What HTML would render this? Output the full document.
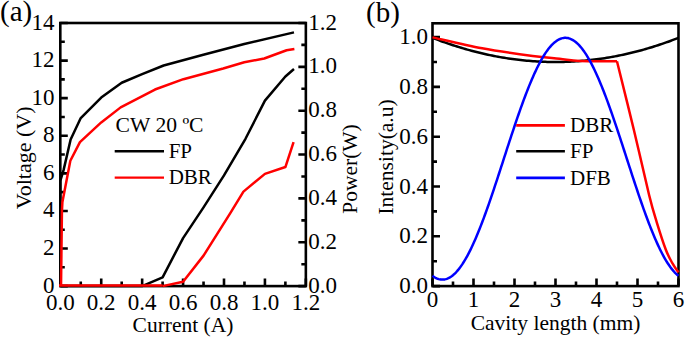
<!DOCTYPE html>
<html><head><meta charset="utf-8"><style>
html,body{margin:0;padding:0;background:#fff;}
svg{display:block;}
text{font-family:"Liberation Serif",serif;fill:#000;}
.s{font-family:"Liberation Sans",sans-serif;}
</style></head><body>
<svg width="685" height="338" viewBox="0 0 685 338">
<rect x="0" y="0" width="685" height="338" fill="#fff"/>

<path fill="none" stroke="#000" stroke-width="2.6" d="M60.30,286.10 h7.5 M60.30,267.31 h4.5 M60.30,248.51 h7.5 M60.30,229.72 h4.5 M60.30,210.93 h7.5 M60.30,192.14 h4.5 M60.30,173.34 h7.5 M60.30,154.55 h4.5 M60.30,135.76 h7.5 M60.30,116.96 h4.5 M60.30,98.17 h7.5 M60.30,79.38 h4.5 M60.30,60.59 h7.5 M60.30,41.79 h4.5 M60.30,23.00 h7.5 M305.85,286.10 h-7.5 M305.85,264.18 h-4.5 M305.85,242.25 h-7.5 M305.85,220.33 h-4.5 M305.85,198.40 h-7.5 M305.85,176.48 h-4.5 M305.85,154.55 h-7.5 M305.85,132.62 h-4.5 M305.85,110.70 h-7.5 M305.85,88.78 h-4.5 M305.85,66.85 h-7.5 M305.85,44.92 h-4.5 M305.85,23.00 h-7.5 M60.30,286.10 v-7.5 M80.76,286.10 v-4.5 M101.22,286.10 v-7.5 M121.69,286.10 v-4.5 M142.15,286.10 v-7.5 M162.61,286.10 v-4.5 M183.08,286.10 v-7.5 M203.54,286.10 v-4.5 M224.00,286.10 v-7.5 M244.46,286.10 v-4.5 M264.93,286.10 v-7.5 M285.39,286.10 v-4.5 M305.85,286.10 v-7.5"/>
<rect x="60.30" y="23.00" width="245.55" height="263.10" fill="none" stroke="#000" stroke-width="2.6"/>
<g fill="none" stroke-linejoin="round" stroke-linecap="butt" stroke-width="2.50">
<path stroke="#000" d="M60.30,286.10 L60.30,180.86 L63.57,170.15 L70.63,139.52 L80.76,118.09 L101.22,97.61 L121.69,82.76 L142.15,74.12 L163.64,65.47 L203.33,54.76 L244.26,44.05 L293.98,32.40"/>
<path stroke="#000" d="M60.30,286.10 L142.15,286.10 L162.61,277.33 L183.08,238.08 L203.54,207.39 L224.00,175.38 L245.49,138.76 L264.93,100.61 L285.39,76.50 L293.98,69.04"/>
<path stroke="#f00" d="M61.02,286.10 L61.94,210.93 L62.41,201.98 L70.33,160.75 L79.94,142.15 L101.22,122.41 L120.66,107.38 L154.96,89.53 L183.40,79.19 L223.18,68.48 L244.26,62.28 L264.23,58.52 L286.62,50.25 L294.39,48.93"/>
<path stroke="#f00" d="M162.61,286.10 L183.08,281.72 L203.54,255.62 L230.14,213.31 L243.44,191.60 L264.93,173.84 L285.39,167.05 L293.57,142.05"/>
</g>
<path fill="none" stroke="#f00" stroke-width="2.3" d="M59.00,285.50 H162.61"/>
<text x="54.5" y="292.60" font-size="23" text-anchor="end">0</text>
<text x="54.5" y="255.01" font-size="23" text-anchor="end">2</text>
<text x="54.5" y="217.43" font-size="23" text-anchor="end">4</text>
<text x="54.5" y="179.84" font-size="23" text-anchor="end">6</text>
<text x="54.5" y="142.26" font-size="23" text-anchor="end">8</text>
<text x="54.5" y="104.67" font-size="23" text-anchor="end">10</text>
<text x="54.5" y="67.09" font-size="23" text-anchor="end">12</text>
<text x="54.5" y="29.50" font-size="23" text-anchor="end">14</text>
<text x="60.30" y="310" font-size="23" text-anchor="middle">0.0</text>
<text x="101.22" y="310" font-size="23" text-anchor="middle">0.2</text>
<text x="142.15" y="310" font-size="23" text-anchor="middle">0.4</text>
<text x="183.08" y="310" font-size="23" text-anchor="middle">0.6</text>
<text x="224.00" y="310" font-size="23" text-anchor="middle">0.8</text>
<text x="264.93" y="310" font-size="23" text-anchor="middle">1.0</text>
<text x="305.85" y="310" font-size="23" text-anchor="middle">1.2</text>
<text x="308.2" y="292.60" font-size="23">0.0</text>
<text x="308.2" y="248.75" font-size="23">0.2</text>
<text x="308.2" y="204.90" font-size="23">0.4</text>
<text x="308.2" y="161.05" font-size="23">0.6</text>
<text x="308.2" y="117.20" font-size="23">0.8</text>
<text x="308.2" y="73.35" font-size="23">1.0</text>
<text x="308.2" y="29.50" font-size="23">1.2</text>
<text x="183" y="332" font-size="21.5" text-anchor="middle">Current (A)</text>
<text transform="translate(30.6,157.9) rotate(-90)" font-size="22" text-anchor="middle">Voltage (V)</text>
<text transform="translate(357.3,169) rotate(-90)" font-size="21.5" text-anchor="middle">Power(W)</text>
<text x="0" y="21.4" font-size="29">(a)</text>
<text x="115.6" y="132.2" font-size="21.6">CW 20 ºC</text>
<path stroke="#000" stroke-width="2.6" d="M114.7,151.2 H164"/>
<text x="168.7" y="158" font-size="21">FP</text>
<path stroke="#f00" stroke-width="2.4" d="M114.7,177.6 H164"/>
<text x="168.7" y="184" font-size="21">DBR</text>
<path fill="none" stroke="#000" stroke-width="2.6" d="M432.50,286.10 h7.5 M432.50,261.20 h4.5 M432.50,236.30 h7.5 M432.50,211.40 h4.5 M432.50,186.50 h7.5 M432.50,161.60 h4.5 M432.50,136.70 h7.5 M432.50,111.80 h4.5 M432.50,86.90 h7.5 M432.50,62.00 h4.5 M432.50,37.10 h7.5 M432.50,286.10 v-7.5 M453.00,286.10 v-4.5 M473.50,286.10 v-7.5 M494.00,286.10 v-4.5 M514.50,286.10 v-7.5 M535.00,286.10 v-4.5 M555.50,286.10 v-7.5 M576.00,286.10 v-4.5 M596.50,286.10 v-7.5 M617.00,286.10 v-4.5 M637.50,286.10 v-7.5 M658.00,286.10 v-4.5 M678.50,286.10 v-7.5"/>
<rect x="432.50" y="23.30" width="246.00" height="262.80" fill="none" stroke="#000" stroke-width="2.6"/>
<g fill="none" stroke-linejoin="round" stroke-width="2.50">
<path stroke="#000" d="M432.50,37.85 L434.55,38.65 L436.60,39.43 L438.65,40.20 L440.70,40.96 L442.75,41.70 L444.80,42.44 L446.85,43.15 L448.90,43.86 L450.95,44.55 L453.00,45.23 L455.05,45.89 L457.10,46.54 L459.15,47.18 L461.20,47.80 L463.25,48.41 L465.30,49.01 L467.35,49.59 L469.40,50.17 L471.45,50.72 L473.50,51.27 L475.55,51.80 L477.60,52.31 L479.65,52.82 L481.70,53.30 L483.75,53.78 L485.80,54.24 L487.85,54.69 L489.90,55.13 L491.95,55.55 L494.00,55.96 L496.05,56.36 L498.10,56.74 L500.15,57.11 L502.20,57.46 L504.25,57.81 L506.30,58.14 L508.35,58.45 L510.40,58.75 L512.45,59.04 L514.50,59.32 L516.55,59.58 L518.60,59.83 L520.65,60.06 L522.70,60.28 L524.75,60.49 L526.80,60.69 L528.85,60.87 L530.90,61.03 L532.95,61.19 L535.00,61.33 L537.05,61.46 L539.10,61.57 L541.15,61.67 L543.20,61.76 L545.25,61.83 L547.30,61.89 L549.35,61.94 L551.40,61.97 L553.45,61.99 L555.50,62.00 L557.55,61.99 L559.60,61.97 L561.65,61.94 L563.70,61.89 L565.75,61.83 L567.80,61.76 L569.85,61.67 L571.90,61.57 L573.95,61.46 L576.00,61.33 L578.05,61.19 L580.10,61.03 L582.15,60.87 L584.20,60.69 L586.25,60.49 L588.30,60.28 L590.35,60.06 L592.40,59.83 L594.45,59.58 L596.50,59.32 L598.55,59.04 L600.60,58.75 L602.65,58.45 L604.70,58.14 L606.75,57.81 L608.80,57.46 L610.85,57.11 L612.90,56.74 L614.95,56.36 L617.00,55.96 L619.05,55.55 L621.10,55.13 L623.15,54.69 L625.20,54.24 L627.25,53.78 L629.30,53.30 L631.35,52.82 L633.40,52.31 L635.45,51.80 L637.50,51.27 L639.55,50.72 L641.60,50.17 L643.65,49.59 L645.70,49.01 L647.75,48.41 L649.80,47.80 L651.85,47.18 L653.90,46.54 L655.95,45.89 L658.00,45.23 L660.05,44.55 L662.10,43.86 L664.15,43.15 L666.20,42.44 L668.25,41.70 L670.30,40.96 L672.35,40.20 L674.40,39.43 L676.45,38.65 L678.50,37.85"/>
<path stroke="#f00" d="M432.50,37.35 C440.78,39.18 465.49,45.19 482.19,48.31 C498.89,51.42 519.80,54.28 532.70,56.02 C545.61,57.77 551.76,57.93 559.60,58.76 C567.44,59.59 570.21,60.59 579.77,61.00 C589.33,61.42 610.76,61.21 616.96,61.25 M616.96,61.25 C619.78,72.71 628.53,107.69 633.89,129.98 C639.25,152.26 645.28,179.53 649.10,194.97 C652.93,210.40 654.08,213.52 656.85,222.61 C659.63,231.69 663.17,242.73 665.75,249.50 C668.33,256.26 670.22,259.37 672.35,263.19 C674.48,267.01 677.48,270.87 678.50,272.41"/>
<path stroke="#00f" d="M432.50,275.83 L433.52,276.57 L434.55,277.24 L435.57,277.83 L436.60,278.33 L437.62,278.75 L438.65,279.09 L439.68,279.35 L440.70,279.52 L441.73,279.61 L442.75,279.62 L443.77,279.54 L444.80,279.39 L445.82,279.15 L446.85,278.82 L447.88,278.42 L448.90,277.93 L449.93,277.36 L450.95,276.71 L451.98,275.98 L453.00,275.17 L454.02,274.28 L455.05,273.31 L456.07,272.26 L457.10,271.14 L458.12,269.93 L459.15,268.65 L460.18,267.30 L461.20,265.87 L462.23,264.37 L463.25,262.79 L464.27,261.14 L465.30,259.43 L466.32,257.64 L467.35,255.79 L468.38,253.87 L469.40,251.88 L470.43,249.83 L471.45,247.72 L472.48,245.55 L473.50,243.32 L474.52,241.03 L475.55,238.68 L476.57,236.28 L477.60,233.83 L478.62,231.32 L479.65,228.77 L480.68,226.16 L481.70,223.51 L482.73,220.82 L483.75,218.08 L484.77,215.30 L485.80,212.49 L486.82,209.64 L487.85,206.75 L488.88,203.83 L489.90,200.88 L490.93,197.89 L491.95,194.89 L492.98,191.86 L494.00,188.80 L495.02,185.73 L496.05,182.63 L497.07,179.52 L498.10,176.40 L499.12,173.26 L500.15,170.11 L501.18,166.96 L502.20,163.80 L503.23,160.64 L504.25,157.47 L505.27,154.31 L506.30,151.15 L507.32,147.99 L508.35,144.84 L509.38,141.70 L510.40,138.58 L511.43,135.46 L512.45,132.37 L513.48,129.29 L514.50,126.23 L515.52,123.19 L516.55,120.18 L517.58,117.19 L518.60,114.23 L519.62,111.31 L520.65,108.41 L521.67,105.55 L522.70,102.73 L523.73,99.94 L524.75,97.20 L525.77,94.50 L526.80,91.84 L527.83,89.22 L528.85,86.66 L529.88,84.14 L530.90,81.68 L531.92,79.27 L532.95,76.91 L533.98,74.61 L535.00,72.36 L536.02,70.18 L537.05,68.06 L538.08,65.99 L539.10,64.00 L540.12,62.06 L541.15,60.20 L542.17,58.40 L543.20,56.67 L544.23,55.01 L545.25,53.42 L546.27,51.90 L547.30,50.45 L548.33,49.08 L549.35,47.79 L550.38,46.57 L551.40,45.43 L552.42,44.36 L553.45,43.38 L554.48,42.47 L555.50,41.64 L556.52,40.90 L557.55,40.23 L558.58,39.65 L559.60,39.14 L560.62,38.72 L561.65,38.38 L562.67,38.13 L563.70,37.95 L564.73,37.86 L565.75,37.85 L566.77,37.93 L567.80,38.09 L568.83,38.33 L569.85,38.65 L570.88,39.05 L571.90,39.54 L572.92,40.11 L573.95,40.76 L574.98,41.49 L576.00,42.30 L577.02,43.19 L578.05,44.16 L579.08,45.21 L580.10,46.34 L581.12,47.54 L582.15,48.82 L583.17,50.17 L584.20,51.60 L585.23,53.11 L586.25,54.68 L587.27,56.33 L588.30,58.05 L589.33,59.83 L590.35,61.68 L591.38,63.60 L592.40,65.59 L593.42,67.64 L594.45,69.75 L595.48,71.92 L596.50,74.15 L597.52,76.44 L598.55,78.79 L599.58,81.19 L600.60,83.65 L601.62,86.15 L602.65,88.71 L603.67,91.31 L604.70,93.96 L605.73,96.65 L606.75,99.39 L607.77,102.17 L608.80,104.98 L609.83,107.84 L610.85,110.73 L611.88,113.65 L612.90,116.60 L613.92,119.58 L614.95,122.59 L615.98,125.62 L617.00,128.67 L618.02,131.75 L619.05,134.84 L620.08,137.95 L621.10,141.08 L622.12,144.21 L623.15,147.36 L624.17,150.51 L625.20,153.67 L626.23,156.84 L627.25,160.00 L628.27,163.17 L629.30,166.33 L630.33,169.48 L631.35,172.63 L632.38,175.77 L633.40,178.90 L634.42,182.01 L635.45,185.11 L636.48,188.19 L637.50,191.25 L638.52,194.28 L639.55,197.30 L640.58,200.28 L641.60,203.24 L642.62,206.17 L643.65,209.06 L644.67,211.92 L645.70,214.74 L646.73,217.53 L647.75,220.27 L648.77,222.98 L649.80,225.64 L650.83,228.25 L651.85,230.81 L652.88,233.33 L653.90,235.79 L654.92,238.21 L655.95,240.56 L656.98,242.87 L658.00,245.11 L659.02,247.29 L660.05,249.42 L661.08,251.48 L662.10,253.48 L663.12,255.41 L664.15,257.28 L665.17,259.08 L666.20,260.81 L667.23,262.47 L668.25,264.06 L669.27,265.57 L670.30,267.02 L671.33,268.39 L672.35,269.68 L673.38,270.90 L674.40,272.04 L675.42,273.11 L676.45,274.09 L677.48,275.00 L678.50,275.83"/>
</g>
<text x="428" y="293.10" font-size="23" text-anchor="end">0.0</text>
<text x="428" y="243.30" font-size="23" text-anchor="end">0.2</text>
<text x="428" y="193.50" font-size="23" text-anchor="end">0.4</text>
<text x="428" y="143.70" font-size="23" text-anchor="end">0.6</text>
<text x="428" y="93.90" font-size="23" text-anchor="end">0.8</text>
<text x="428" y="44.10" font-size="23" text-anchor="end">1.0</text>
<text x="432.50" y="306.5" font-size="23" text-anchor="middle">0</text>
<text x="473.50" y="306.5" font-size="23" text-anchor="middle">1</text>
<text x="514.50" y="306.5" font-size="23" text-anchor="middle">2</text>
<text x="555.50" y="306.5" font-size="23" text-anchor="middle">3</text>
<text x="596.50" y="306.5" font-size="23" text-anchor="middle">4</text>
<text x="637.50" y="306.5" font-size="23" text-anchor="middle">5</text>
<text x="678.50" y="306.5" font-size="23" text-anchor="middle">6</text>
<text x="555.5" y="329.6" font-size="21.5" text-anchor="middle">Cavity length (mm)</text>
<text transform="translate(393,157) rotate(-90)" font-size="21.5" text-anchor="middle">Intensity(a.u)</text>
<text x="366" y="22" font-size="29">(b)</text>
<path stroke="#f00" stroke-width="2.6" d="M516.2,125.4 H564.9"/>
<text x="570" y="131.8" font-size="21">DBR</text>
<path stroke="#000" stroke-width="2.6" d="M516.2,151.3 H564.9"/>
<text x="570" y="157.9" font-size="21">FP</text>
<path stroke="#00f" stroke-width="2.6" d="M516.2,177.9 H564.9"/>
<text x="570" y="184.5" font-size="21">DFB</text>
</svg></body></html>
